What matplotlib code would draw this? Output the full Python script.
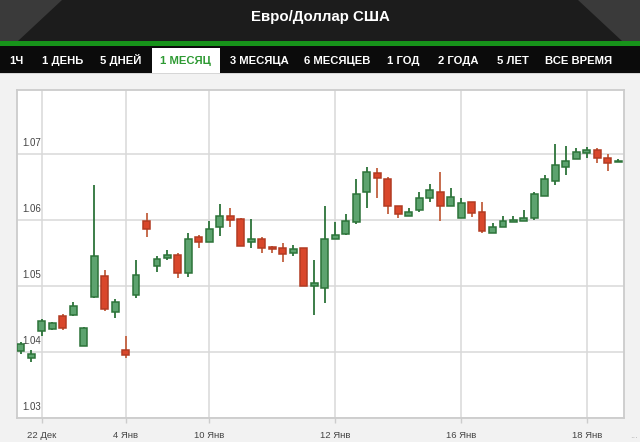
import matplotlib
matplotlib.use("Agg")
import matplotlib.pyplot as plt
from matplotlib.patches import Rectangle, Polygon

# ---- data ----
title = "Евро/Доллар США"
tabs = ["1Ч", "1 ДЕНЬ", "5 ДНЕЙ", "1 МЕСЯЦ", "3 МЕСЯЦА", "6 МЕСЯЦЕВ", "1 ГОД", "2 ГОДА", "5 ЛЕТ", "ВСЕ ВРЕМЯ"]
active_tab = "1 МЕСЯЦ"

opens = [1.0402, 1.0392, 1.0432, 1.0435, 1.0455, 1.0457, 1.0409, 1.0483, 1.0515, 1.0461,
         1.0404, 1.0486, 1.0598, 1.0530, 1.0542, 1.0547, 1.0520, 1.0575, 1.0567, 1.0589,
         1.0607, 1.0602, 1.0567, 1.0571, 1.0560, 1.0558, 1.0550, 1.0558, 1.0501, 1.0498,
         1.0572, 1.0579, 1.0597, 1.0642, 1.0672, 1.0663, 1.0621, 1.0606, 1.0615, 1.0633,
         1.0643, 1.0622, 1.0604, 1.0627, 1.0613, 1.0581, 1.0589, 1.0597, 1.0598, 1.0604,
         1.0636, 1.0660, 1.0681, 1.0692, 1.0702, 1.0706, 1.0694, 1.0688]
highs = [1.0416, 1.0403, 1.0451, 1.0446, 1.0458, 1.0476, 1.0439, 1.0654, 1.0525, 1.0481,
         1.0424, 1.0540, 1.0611, 1.0545, 1.0555, 1.0551, 1.0580, 1.0577, 1.0598, 1.0624,
         1.0618, 1.0603, 1.0602, 1.0574, 1.0561, 1.0565, 1.0563, 1.0558, 1.0539, 1.0621,
         1.0597, 1.0610, 1.0663, 1.0681, 1.0679, 1.0666, 1.0622, 1.0618, 1.0643, 1.0655,
         1.0673, 1.0649, 1.0633, 1.0627, 1.0627, 1.0596, 1.0606, 1.0607, 1.0616, 1.0642,
         1.0669, 1.0715, 1.0713, 1.0709, 1.0711, 1.0709, 1.0700, 1.0692]
lows = [1.0398, 1.0386, 1.0424, 1.0434, 1.0434, 1.0455, 1.0409, 1.0482, 1.0463, 1.0452,
        1.0392, 1.0482, 1.0575, 1.0522, 1.0540, 1.0512, 1.0514, 1.0558, 1.0567, 1.0576,
        1.0589, 1.0561, 1.0558, 1.0551, 1.0551, 1.0537, 1.0546, 1.0500, 1.0456, 1.0475,
        1.0572, 1.0578, 1.0594, 1.0619, 1.0633, 1.0610, 1.0604, 1.0606, 1.0612, 1.0627,
        1.0599, 1.0622, 1.0604, 1.0605, 1.0580, 1.0581, 1.0589, 1.0597, 1.0598, 1.0600,
        1.0636, 1.0654, 1.0668, 1.0692, 1.0694, 1.0687, 1.0674, 1.0688]
closes = [1.0413, 1.0398, 1.0447, 1.0444, 1.0436, 1.0470, 1.0436, 1.0545, 1.0466, 1.0476,
          1.0396, 1.0517, 1.0586, 1.0541, 1.0547, 1.0520, 1.0572, 1.0567, 1.0587, 1.0606,
          1.0600, 1.0561, 1.0571, 1.0558, 1.0556, 1.0549, 1.0556, 1.0500, 1.0505, 1.0571,
          1.0578, 1.0598, 1.0640, 1.0673, 1.0664, 1.0621, 1.0610, 1.0613, 1.0633, 1.0646,
          1.0621, 1.0635, 1.0626, 1.0611, 1.0583, 1.0590, 1.0599, 1.0601, 1.0604, 1.0639,
          1.0662, 1.0683, 1.0690, 1.0703, 1.0707, 1.0694, 1.0687, 1.0690]

xtick_pos = [2, 10, 18, 30, 42, 54]
xtick_labels = ["22 Дек", "4 Янв", "10 Янв", "12 Янв", "16 Янв", "18 Янв"]
ytick_vals = [1.03, 1.04, 1.05, 1.06, 1.07]
ytick_labels = ["1.03", "1.04", "1.05", "1.06", "1.07"]

# ---- figure ----
W, H = 640, 442
fig = plt.figure(figsize=(W / 100, H / 100), dpi=100)
fig.patch.set_facecolor("#f2f2f2")

narrow = ["Liberation Sans Narrow", "Liberation Sans", "DejaVu Sans"]
sans = ["Liberation Sans", "DejaVu Sans"]

# overlay for header in pixel coordinates
ov = fig.add_axes([0, 0, 1, 1])
ov.set_xlim(0, W)
ov.set_ylim(H, 0)
ov.axis("off")
ov.add_patch(Rectangle((0, 0), W, 41, color="#1c1c1c", lw=0))
ov.add_patch(Polygon([(0, 0), (62, 0), (18, 41), (0, 41)], closed=True, color="#3a3a3a", lw=0))
ov.add_patch(Polygon([(W, 0), (W - 62, 0), (W - 18, 41), (W, 41)], closed=True, color="#3a3a3a", lw=0))
ov.text(W / 2, 21, title, color="white", fontsize=10.8, fontweight="bold",
        family=narrow, ha="center", va="baseline")
ov.add_patch(Rectangle((0, 40.5), W, 5, color="#17931a", lw=0))
ov.add_patch(Rectangle((0, 45.5), W, 27, color="#0b0b0b", lw=0))
ov.add_patch(Rectangle((0, 72.5), W, 1.5, color="#d6d6d6", lw=0))

tab_centers = [16, 63, 121, 185, 259, 337, 403, 458, 513, 579]
for name, cx in zip(tabs, tab_centers):
    if name == active_tab:
        ov.add_patch(Rectangle((152, 47.5), 68, 25, color="white", lw=0))
        col = "#2e9a33"
    else:
        col = "white"
    ov.text(cx, 63.5, name, color=col, fontsize=8.1, fontweight="bold",
            family=narrow, ha="center", va="baseline")
ov.text(634, 435, "...", color="#aaaaaa", fontsize=6, ha="center", va="center")

# ---- chart ----
left_px, right_px, top_px, bottom_px = 16.7, 624.3, 90, 418.3
ax = fig.add_axes([left_px / W, 1 - bottom_px / H, (right_px - left_px) / W, (bottom_px - top_px) / H])
ax.set_facecolor("white")

x = list(range(len(opens)))
g_fill, g_edge = "#5da36f", "#2c7339"
r_fill, r_edge, r_wick = "#d9472b", "#b23b22", "#c2603f"
bw = 0.66
for i in x:
    o, h, l, c = opens[i], highs[i], lows[i], closes[i]
    up = c >= o
    fill = g_fill if up else r_fill
    edge = g_edge if up else r_edge
    wick = g_edge if up else r_wick
    ax.vlines(i, l, h, color=wick, lw=1.3, zorder=2)
    lo, hi = min(o, c), max(o, c)
    ax.bar(i, max(hi - lo, 0.00012), bottom=lo if hi - lo >= 0.00012 else lo - 0.00006,
           width=bw, color=fill, edgecolor=edge, linewidth=1.1, zorder=3)

ax.set_xlim(-0.38, 57.57)
ax.set_ylim(1.03027, 1.07971)
ax.set_xticks(xtick_pos)
ax.set_xticklabels(xtick_labels, fontsize=6.8, color="#444444", family=sans)
ax.set_yticks(ytick_vals)
ax.set_yticklabels([])
ax.tick_params(axis="y", length=0)
ax.tick_params(axis="x", length=3.5, color="#cccccc", width=1.0, pad=5.5)
ax.grid(True, color="#d9d9d9", lw=1.1, zorder=0)
ax.set_axisbelow(True)
for s in ax.spines.values():
    s.set_color("#cccccc")
    s.set_linewidth(1.3)

for v, lbl in zip(ytick_vals, ytick_labels):
    ax.annotate(lbl, xy=(0.009, v), xycoords=("axes fraction", "data"),
                xytext=(0, 4.3), textcoords="offset points", va="bottom", ha="left",
                fontsize=7, color="#444444", family=sans, annotation_clip=False, zorder=1)

fig.savefig("out.png", dpi=100, facecolor=fig.get_facecolor())
